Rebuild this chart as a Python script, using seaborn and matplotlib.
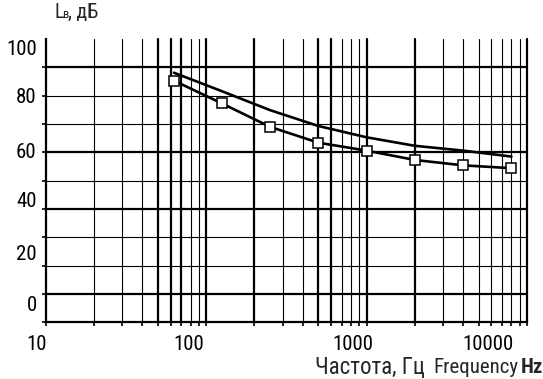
import pandas as pd
import matplotlib.pyplot as plt
import seaborn as sns
from matplotlib import font_manager

# octave band centre frequencies, Hz
freq = [63, 125, 250, 500, 1000, 2000, 4000, 8000]
# curve with square markers, dB
level_marked = [85.3, 77.3, 69.0, 63.4, 60.6, 57.3, 55.4, 54.4]
# upper curve without markers, dB
level_upper = [88.1, 81.6, 74.9, 69.3, 65.3, 62.3, 60.6, 58.5]

# grid
grid_freq = [20, 30, 40, 50, 60, 70, 80, 90, 100, 200, 300, 400, 500, 600, 700, 800, 900,
             1000, 2000, 3000, 4000, 5000, 6000, 7000, 8000, 9000, 10000]
bold_freq = [50, 60, 70, 100, 200, 500, 600, 1000, 2000, 10000]
grid_db = [10, 20, 30, 40, 50, 60, 70, 80, 90]
bold_db = [10, 40, 60, 90]

# tick labels (positions as they sit in the scan)
xlabels = ['10', '100', '1000', '10000']
xlabel_pos = [10.1, 97, 1110, 8230]
ylabels = ['100', '80', '60', '40', '20', '0']
ylabel_pos = [97, 80.2, 60.8, 43.5, 24.6, 6.8]

df = pd.DataFrame({
    'freq': freq * 2,
    'level': level_marked + level_upper,
    'curve': ['marked'] * len(freq) + ['upper'] * len(freq),
})

# narrow sans like the scan, if one is around
installed = {f.name for f in font_manager.fontManager.ttflist}
narrow = [n for n in ['Liberation Sans Narrow', 'Arial Narrow', 'Roboto Condensed',
                      'PT Sans Narrow', 'Fira Sans Condensed'] if n in installed]

sns.set_style('white')
plt.rcParams['font.family'] = narrow[:1] + ['Liberation Sans', 'DejaVu Sans']

fig = plt.figure(figsize=(5.43, 3.79), dpi=100)
W, H = 543, 379
ax = fig.add_axes([45.7 / W, 1 - 322.3 / H, (527 - 45.7) / W, (322.3 - 39) / H])
ax.set_xscale('log')
ax.set_xlim(10, 10000)
ax.set_ylim(0, 100)

for f in grid_freq:
    ax.axvline(f, color='black', lw=1.6 if f in bold_freq else 0.8, clip_on=False, zorder=1)
for d in grid_db:
    ax.axhline(d, color='black', lw=1.6 if d in bold_db else 0.8, zorder=1)

sns.lineplot(data=df[df.curve == 'upper'], x='freq', y='level', ax=ax,
             color='black', lw=1.9, zorder=3)
sns.lineplot(data=df[df.curve == 'marked'], x='freq', y='level', ax=ax,
             color='black', lw=1.9, marker='s', markersize=7,
             markerfacecolor='white', markeredgecolor='black', markeredgewidth=1.1, zorder=3)

for s in ['top', 'right']:
    ax.spines[s].set_visible(False)
for s in ['left', 'bottom']:
    ax.spines[s].set_linewidth(1.6)
    ax.spines[s].set_color('black')

ax.set_xticks(xlabel_pos, xlabels)
ax.set_xticks(grid_freq + [10], minor=True)
ax.set_xticklabels([], minor=True)
ax.set_yticks(ylabel_pos, ylabels)
ax.set_yticks([0] + grid_db, minor=True)
ax.tick_params(axis='both', which='major', length=0, labelsize=15, colors='black')
ax.tick_params(axis='x', which='major', pad=9)
ax.tick_params(axis='y', which='major', pad=6.5)
ax.tick_params(axis='both', which='minor', length=3, width=1.2, color='black', direction='out')
ax.tick_params(axis='x', which='minor', bottom=True)
ax.tick_params(axis='y', which='minor', left=True)
for lab in ax.get_xticklabels():
    lab.set_horizontalalignment('right')
ax.set_xlabel('')
ax.set_ylabel('')

fig.text(315 / W, 1 - 367.5 / H, 'Частота, Гц', fontsize=16.5, ha='left', va='center')
fig.text(433 / W, 1 - 367.5 / H, 'Frequency', fontsize=15, ha='left', va='center')
fig.text(543 / W, 1 - 367.5 / H, 'Hz', fontsize=15, ha='right', va='center', fontweight='bold')

fig.text(54 / W, 1 - 18.3 / H, 'L', fontsize=14.5, ha='left', va='baseline')
fig.text(62 / W, 1 - 18.3 / H, 'в', fontsize=9, ha='left', va='baseline')
fig.text(68.5 / W, 1 - 18.3 / H, ', дБ', fontsize=14.5, ha='left', va='baseline')

plt.savefig('out.png', dpi=100)
